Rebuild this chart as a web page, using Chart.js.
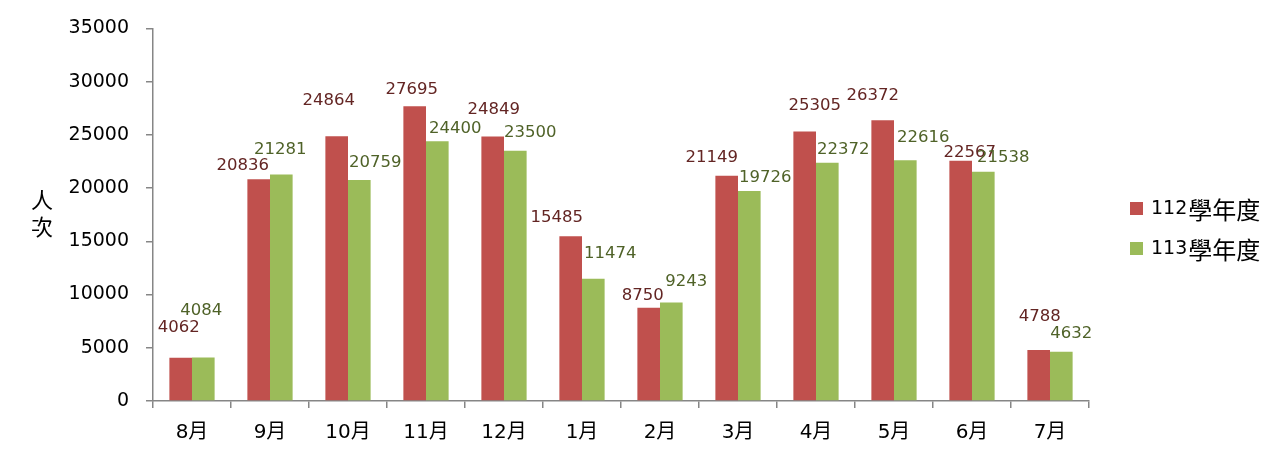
<!DOCTYPE html>
<html>
<head>
<meta charset="utf-8">
<script src="https://cdn.jsdelivr.net/npm/chart.js@4.4.0/dist/chart.umd.min.js"></script>
<style>
  html, body { margin: 0; padding: 0; background: #fff; }
  #wrap { width: 1277px; height: 463px; }
</style>
</head>
<body>
<div id="wrap"><canvas id="chart" width="1277" height="463"></canvas></div>
<script>
// Chart data
const months = ['8月', '9月', '10月', '11月', '12月', '1月', '2月', '3月', '4月', '5月', '6月', '7月'];
const year112 = [4062, 20836, 24864, 27695, 24849, 15485, 8750, 21149, 25305, 26372, 22567, 4788];
const year113 = [4084, 21281, 20759, 24400, 23500, 11474, 9243, 19726, 22372, 22616, 21538, 4632];
const seriesNames = ['112學年度', '113學年度'];
const yTicks = [0, 5000, 10000, 15000, 20000, 25000, 30000, 35000];

// Where each value label sits relative to the top of its bar (px)
const labelShift112 = [[-2, -30], [-16, -13], [-8, -36], [-3, -16], [1, -27], [-14, -18],
                       [-6, -12], [-15, -18], [10, -26], [-10, -25], [9, -8], [1, -33]];
const labelShift113 = [[-2, -47], [-1, -25], [16, -17], [18, -13], [15, -18], [17, -25],
                       [15, -21], [16, -13], [16, -13], [18, -23], [20, -14], [10, -18]];

const RED = '#C0504D';
const GREEN = '#9BBB59';
const AXIS = '#868686';
const NUM_FONT = '"DejaVu Sans", "Noto Sans CJK TC", sans-serif';
const CJK_FONT = '"Noto Sans CJK TC", "DejaVu Sans", sans-serif';

/**
 * Value labels drawn above each bar
 */
const valueLabels = {
    id: 'valueLabels',
    afterDatasetsDraw(chart) {
        const ctx = chart.ctx;
        const shifts = [labelShift112, labelShift113];
        const colors = ['#632523', '#4F6228'];
        ctx.save();
        ctx.font = '16.5px ' + NUM_FONT;
        ctx.textAlign = 'center';
        ctx.textBaseline = 'middle';
        chart.data.datasets.forEach((ds, d) => {
            const meta = chart.getDatasetMeta(d);
            ctx.fillStyle = colors[d];
            meta.data.forEach((bar, i) => {
                const s = shifts[d][i];
                ctx.fillText(String(ds.data[i]), bar.x + s[0], bar.y + s[1]);
            });
        });
        ctx.restore();
    }
};

/**
 * Vertical axis title and legend on the right
 */
const extras = {
    id: 'extras',
    afterDraw(chart) {
        const ctx = chart.ctx;
        ctx.save();
        ctx.fillStyle = '#000';
        ctx.textAlign = 'center';
        ctx.textBaseline = 'middle';
        ctx.font = '22px ' + CJK_FONT;
        ctx.fillText('人', 42, 200);
        ctx.fillText('次', 42, 227);

        // legend
        const area = chart.chartArea;
        const x0 = area.right + 41;
        chart.data.datasets.forEach((ds, d) => {
            const y = 209 + d * 40;
            ctx.fillStyle = ds.backgroundColor;
            ctx.fillRect(x0, y - 7, 13, 13);
            const name = seriesNames[d];
            const digits = name.slice(0, 3);
            const rest = name.slice(3);
            ctx.fillStyle = '#000';
            ctx.textAlign = 'left';
            ctx.font = '19px ' + NUM_FONT;
            ctx.fillText(digits, x0 + 21, y);
            const w = ctx.measureText(digits).width;
            ctx.font = '24px ' + CJK_FONT;
            ctx.fillText(rest, x0 + 22 + w, y + 1);
        });
        ctx.restore();
    }
};

function initChart() {
    const ctx = document.getElementById('chart').getContext('2d');
    return new Chart(ctx, {
        type: 'bar',
        data: {
            labels: months,
            datasets: [
                { label: seriesNames[0], data: year112, backgroundColor: RED },
                { label: seriesNames[1], data: year113, backgroundColor: GREEN }
            ]
        },
        options: {
            responsive: false,
            animation: false,
            devicePixelRatio: 1,
            categoryPercentage: 0.58,
            barPercentage: 1,
            layout: { padding: { top: 26, right: 188, left: 0, bottom: 0 } },
            plugins: {
                legend: { display: false },
                tooltip: { enabled: false }
            },
            scales: {
                x: {
                    afterFit(scale) { scale.height = 62; },
                    grid: { offset: true, drawOnChartArea: false, drawTicks: true, tickLength: 7, color: AXIS, lineWidth: 1.5 },
                    border: { color: AXIS, width: 1.5 },
                    ticks: { color: '#000', padding: 13, font: { family: NUM_FONT, size: 20 } }
                },
                y: {
                    min: 0,
                    max: 35000,
                    afterFit(scale) { scale.width = 153; },
                    afterBuildTicks(scale) { scale.ticks = yTicks.map(v => ({ value: v })); },
                    grid: { drawOnChartArea: false, drawTicks: true, tickLength: 7, color: AXIS, lineWidth: 1.5 },
                    border: { color: AXIS, width: 1.5 },
                    ticks: {
                        color: '#000',
                        padding: 17,
                        font: { family: NUM_FONT, size: 19 },
                        callback: value => String(value)
                    }
                }
            }
        },
        plugins: [valueLabels, extras]
    });
}

initChart();
</script>
</body>
</html>
